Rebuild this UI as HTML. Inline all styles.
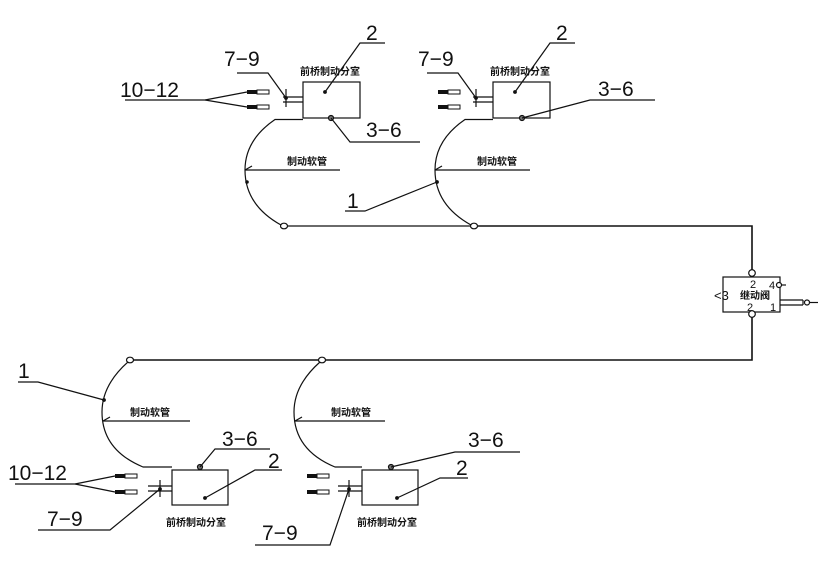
<!DOCTYPE html>
<html><head><meta charset="utf-8"><style>
html,body{margin:0;padding:0;background:#fff;}
svg{display:block;}
.n{font-family:"Liberation Sans",sans-serif;font-size:21px;fill:#111;}
.c{font-family:"Liberation Sans","Noto Sans CJK SC",sans-serif;font-size:10px;font-weight:bold;fill:#111;}
.s{font-family:"Liberation Sans","Noto Sans CJK SC",sans-serif;font-size:11px;fill:#111;}
</style></head><body>
<svg width="833" height="584" viewBox="0 0 833 584" xmlns="http://www.w3.org/2000/svg" stroke="#111" fill="none" stroke-width="1.2">
<defs>
<g id="plug"><rect x="0" y="-2" width="10" height="4" fill="#111" stroke="none"/><rect x="10" y="-2" width="12" height="4" stroke-width="1"/></g>
</defs>

<!-- ===== TOP LEFT UNIT ===== -->
<rect x="303" y="82" width="57" height="36"/>
<text class="c" x="300" y="75" stroke="none">前桥制动分室</text>
<circle cx="325" cy="92" r="1.3" fill="#111"/>
<polyline points="325,92 360,43 385,43"/>
<text class="n" x="366" y="40" stroke="none">2</text>
<line x1="283" y1="97" x2="303" y2="97"/><line x1="283" y1="102" x2="303" y2="102"/>
<line x1="286" y1="89" x2="286" y2="107"/>
<circle cx="286" cy="98" r="1.3" fill="#111"/>
<polyline points="286,98 268,73 237,73"/>
<text class="n" x="224" y="66" stroke="none">7−9</text>
<use href="#plug" x="247" y="92"/><use href="#plug" x="247" y="107"/>
<polyline points="125,100 205,100 247,92"/><line x1="205" y1="100" x2="247" y2="107"/>
<text class="n" x="120" y="97" stroke="none">10−12</text>
<circle cx="331" cy="118" r="2.5" fill="#777"/>
<polyline points="331,118 350,142 420,142"/>
<text class="n" x="366" y="137" stroke="none">3−6</text>
<path d="M303,119.5 L275,119.5 Q245,140 245,170 Q245,205 281,225"/>
<ellipse cx="284" cy="226" rx="3.5" ry="2.8" fill="#fff"/>
<line x1="245" y1="170" x2="340" y2="170"/><line x1="245" y1="170" x2="252" y2="166"/>
<circle cx="247" cy="182" r="1.2" fill="#111"/>
<text class="c" x="287" y="165" stroke="none">制动软管</text>

<!-- ===== TOP RIGHT UNIT ===== -->
<rect x="493" y="82" width="57" height="36"/>
<text class="c" x="490" y="75" stroke="none">前桥制动分室</text>
<circle cx="515" cy="92" r="1.3" fill="#111"/>
<polyline points="515,92 550,43 575,43"/>
<text class="n" x="556" y="40" stroke="none">2</text>
<line x1="473" y1="97" x2="493" y2="97"/><line x1="473" y1="102" x2="493" y2="102"/>
<line x1="476" y1="89" x2="476" y2="107"/>
<circle cx="476" cy="98" r="1.3" fill="#111"/>
<polyline points="476,98 458,73 427,73"/>
<text class="n" x="418" y="66" stroke="none">7−9</text>
<use href="#plug" x="438" y="92"/><use href="#plug" x="438" y="107"/>
<circle cx="522" cy="118" r="2.5" fill="#777"/>
<polyline points="522,118 590,100 655,100"/>
<text class="n" x="598" y="96" stroke="none">3−6</text>
<path d="M493,119.5 L465,119.5 Q435,140 435,170 Q435,205 471,225"/>
<ellipse cx="474" cy="226" rx="3.5" ry="2.8" fill="#fff"/>
<line x1="435" y1="170" x2="530" y2="170"/><line x1="435" y1="170" x2="442" y2="166"/>
<text class="c" x="477" y="165" stroke="none">制动软管</text>
<circle cx="437" cy="182" r="1.3" fill="#111"/>
<polyline points="437,182 365,211 345,211"/>
<text class="n" x="347" y="208" stroke="none">1</text>

<!-- ===== MAIN PIPE ===== -->
<polyline points="287,226 470,226"/>
<polyline points="478,226 752,226 752,270" stroke-width="1.6"/>
<circle cx="752" cy="273" r="3.3" fill="#fff"/>
<rect x="723" y="277" width="57" height="35"/>
<text class="s" x="750" y="288" stroke="none">2</text>
<text class="s" x="769" y="289" stroke="none">4</text>
<circle cx="779" cy="285" r="2.5" fill="#fff"/>
<line x1="781" y1="285" x2="786" y2="285"/>
<text class="s" x="714" y="300" stroke="none" style="font-size:13px">&lt;3</text>
<text class="c" x="740" y="299" stroke="none">继动阀</text>
<text class="s" x="747" y="311" stroke="none">2</text>
<text class="s" x="770" y="311" stroke="none">1</text>
<line x1="780" y1="300" x2="803" y2="300"/><line x1="780" y1="305" x2="803" y2="305"/>
<line x1="803" y1="300" x2="803" y2="305"/>
<circle cx="807" cy="302.5" r="2.5" fill="#fff"/>
<line x1="809" y1="302.5" x2="818" y2="302.5"/>
<circle cx="752" cy="314" r="3.3" fill="#fff"/>
<polyline points="752,317 752,360 325,360" stroke-width="1.6"/>
<line x1="319" y1="360" x2="133" y2="360" stroke-width="1.6"/>
<ellipse cx="130" cy="360" rx="3.5" ry="2.8" fill="#fff"/>
<ellipse cx="322" cy="360" rx="3.5" ry="2.8" fill="#fff"/>

<!-- ===== BOTTOM LEFT UNIT ===== -->
<path d="M128,362 Q102,385 102,412 Q102,450 143,467 L172,467"/>
<line x1="103" y1="421" x2="190" y2="421"/><line x1="103" y1="421" x2="110" y2="417"/>
<text class="c" x="130" y="416" stroke="none">制动软管</text>
<circle cx="104" cy="400" r="1.3" fill="#111"/>
<polyline points="104,400 38,382 18,382"/>
<text class="n" x="18" y="378" stroke="none">1</text>
<rect x="172" y="470" width="56" height="35"/>
<text class="c" x="166" y="526" stroke="none">前桥制动分室</text>
<circle cx="200" cy="467" r="2.5" fill="#777"/>
<polyline points="200,467 215,449 270,449"/>
<text class="n" x="222" y="446" stroke="none">3−6</text>
<circle cx="205" cy="498" r="1.3" fill="#111"/>
<polyline points="205,498 255,470 282,470"/>
<text class="n" x="268" y="468" stroke="none">2</text>
<line x1="148" y1="486" x2="172" y2="486"/><line x1="148" y1="491" x2="172" y2="491"/>
<line x1="160" y1="480" x2="160" y2="497"/>
<circle cx="160" cy="489" r="1.3" fill="#111"/>
<polyline points="160,489 110,530 38,530"/>
<text class="n" x="47" y="526" stroke="none">7−9</text>
<use href="#plug" x="115" y="476"/><use href="#plug" x="115" y="492"/>
<polyline points="15,484 75,484 115,476"/><line x1="75" y1="484" x2="115" y2="492"/>
<text class="n" x="8" y="480" stroke="none">10−12</text>

<!-- ===== BOTTOM RIGHT UNIT ===== -->
<path d="M320,362 Q294,385 294,412 Q294,450 335,467 L362,467"/>
<line x1="295" y1="421" x2="385" y2="421"/><line x1="295" y1="421" x2="302" y2="417"/>
<text class="c" x="331" y="416" stroke="none">制动软管</text>
<rect x="362" y="470" width="56" height="35"/>
<text class="c" x="357" y="526" stroke="none">前桥制动分室</text>
<circle cx="391" cy="467" r="2.5" fill="#777"/>
<polyline points="391,467 455,452 520,452"/>
<text class="n" x="468" y="447" stroke="none">3−6</text>
<circle cx="397" cy="498" r="1.3" fill="#111"/>
<polyline points="397,498 440,478 468,478"/>
<text class="n" x="456" y="475" stroke="none">2</text>
<line x1="338" y1="486" x2="362" y2="486"/><line x1="338" y1="491" x2="362" y2="491"/>
<line x1="349" y1="480" x2="349" y2="497"/>
<circle cx="349" cy="489" r="1.3" fill="#111"/>
<polyline points="349,489 330,545 255,545"/>
<text class="n" x="262" y="540" stroke="none">7−9</text>
<use href="#plug" x="307" y="476"/><use href="#plug" x="307" y="492"/>
</svg>
</body></html>
